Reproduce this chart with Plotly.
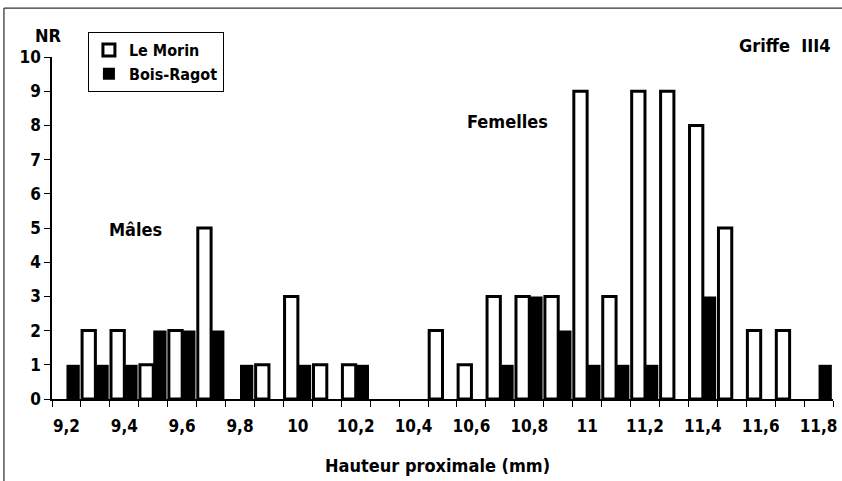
import plotly.graph_objects as go

categories = [9.2, 9.3, 9.4, 9.5, 9.6, 9.7, 9.8, 9.9, 10.0, 10.1, 10.2, 10.3, 10.4, 10.5,
              10.6, 10.7, 10.8, 10.9, 11.0, 11.1, 11.2, 11.3, 11.4, 11.5, 11.6, 11.7, 11.8]
le_morin = [0, 2, 2, 1, 2, 5, 0, 1, 3, 1, 1, 0, 0, 2, 1, 3, 3, 3, 9, 3, 9, 9, 8, 5, 2, 2, 0]
bois_ragot = [1, 1, 1, 2, 2, 2, 1, 0, 1, 0, 1, 0, 0, 0, 0, 1, 3, 2, 1, 1, 1, 0, 3, 0, 0, 0, 1]
tick_values = [9.2, 9.4, 9.6, 9.8, 10.0, 10.2, 10.4, 10.6, 10.8, 11.0, 11.2, 11.4, 11.6, 11.8]
tick_labels = ["9,2", "9,4", "9,6", "9,8", "10", "10,2", "10,4", "10,6", "10,8", "11",
               "11,2", "11,4", "11,6", "11,8"]
boundaries = [round(c - 0.05, 2) for c in categories] + [round(categories[-1] + 0.05, 2)]

FONT = "Liberation Sans Narrow, DejaVu Sans Condensed, Arial Narrow, sans-serif"

# empty classes are not drawn (no outline at the baseline)
morin_drawn = [v if v > 0 else None for v in le_morin]
ragot_drawn = [v if v > 0 else None for v in bois_ragot]

fig = go.Figure()
fig.add_trace(go.Bar(
    x=categories, y=morin_drawn, name="Le Morin",
    marker=dict(color="white", line=dict(color="black", width=3)),
))
fig.add_trace(go.Bar(
    x=categories, y=ragot_drawn, name="Bois-Ragot",
    marker=dict(color="black", line=dict(color="black", width=0)),
))

fig.update_layout(
    width=842, height=481,
    margin=dict(l=52, r=9, t=57, b=82, autoexpand=False),
    paper_bgcolor="white", plot_bgcolor="white",
    barmode="group", bargap=0.08, bargroupgap=0.0,
    font=dict(family=FONT, size=18, color="black", weight="bold"),
    showlegend=True,
    legend=dict(x=0.046, y=1.073, xanchor="left", yanchor="top",
                bgcolor="white", bordercolor="black", borderwidth=1,
                font=dict(family=FONT, size=16, color="black", weight="bold"),
                tracegroupgap=0, itemwidth=30),
    xaxis=dict(
        range=[9.15, 11.85], tickmode="array", tickvals=tick_values, ticktext=tick_labels,
        ticks="outside", ticklen=11, tickcolor="rgba(0,0,0,0)",
        showline=True, linecolor="black", linewidth=1.5, showgrid=False, zeroline=False,
        tickfont=dict(family=FONT, size=17, weight="bold"),
        minor=dict(tickmode="array", tickvals=boundaries, ticks="outside", ticklen=6,
                   tickcolor="black", tickwidth=1, showgrid=False),
    ),
    yaxis=dict(
        range=[0, 10], tickmode="linear", tick0=0, dtick=1,
        ticks="outside", ticklen=6, tickcolor="black",
        showline=True, linecolor="black", linewidth=1.5, showgrid=False, zeroline=False,
        tickfont=dict(family=FONT, size=17, weight="bold"),
    ),
    shapes=[dict(type="rect", xref="paper", yref="paper",
                 x0=-0.0615, x1=1.05, y0=-0.3, y1=1.143,
                 line=dict(color="black", width=1), fillcolor="rgba(0,0,0,0)")],
    annotations=[
        dict(text="NR", xref="paper", yref="paper", x=-0.005, y=1.064, showarrow=False,
             xanchor="center", yanchor="middle", font=dict(size=18)),
        dict(text="Griffe  III4", xref="paper", yref="paper", x=1.0, y=1.035, showarrow=False,
             xanchor="right", yanchor="middle", font=dict(size=18)),
        dict(text="Mâles", x=9.437, y=4.97, showarrow=False,
             xanchor="center", yanchor="middle", font=dict(size=18)),
        dict(text="Femelles", x=10.726, y=8.1, showarrow=False,
             xanchor="center", yanchor="middle", font=dict(size=18)),
        dict(text="Hauteur proximale (mm)", xref="paper", yref="paper",
             x=0.493, y=-(465 - 399) / 342, showarrow=False,
             xanchor="center", yanchor="middle", font=dict(size=18)),
    ],
)

fig.write_html("out.html", config={"displayModeBar": False},
               post_script="document.body.style.margin='0';document.body.style.padding='0';")
